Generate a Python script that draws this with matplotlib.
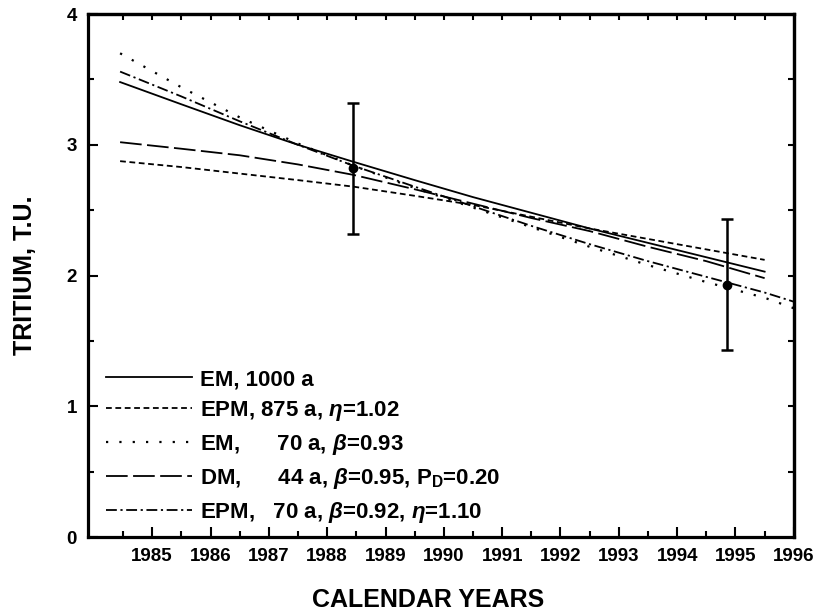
import numpy as np
import matplotlib
matplotlib.use("Agg")
import matplotlib.pyplot as plt

plt.rcParams["font.family"] = ["Liberation Sans", "DejaVu Sans"]
plt.rcParams["font.weight"] = "bold"
plt.rcParams["mathtext.fontset"] = "custom"
plt.rcParams["mathtext.rm"] = "Liberation Sans:bold"
plt.rcParams["mathtext.it"] = "Liberation Sans:italic:bold"

# model curves
years = [1984.45, 1985.5, 1986.5, 1987.5, 1988.45, 1989.5, 1990.5,
         1991.5, 1992.5, 1993.5, 1994.5, 1995.5]
years_long = years + [1996.0]

em_1000 = [3.48, 3.31, 3.15, 3.00, 2.87, 2.73, 2.60, 2.48, 2.36, 2.25, 2.14, 2.03]
epm_875 = [2.875, 2.83, 2.78, 2.73, 2.68, 2.61, 2.54, 2.45, 2.36, 2.28, 2.20, 2.12]
em_70 = [3.70, 3.44, 3.21, 3.01, 2.84, 2.67, 2.52, 2.37, 2.22, 2.08, 1.95, 1.83, 1.75]
dm_44 = [3.02, 2.97, 2.92, 2.85, 2.77, 2.66, 2.55, 2.44, 2.34, 2.22, 2.11, 1.98]
epm_70 = [3.56, 3.37, 3.18, 3.00, 2.84, 2.68, 2.53, 2.38, 2.24, 2.11, 1.99, 1.87, 1.80]

# measurements
obs_years = [1988.45, 1994.85]
obs_tu = [2.82, 1.93]
obs_err = [0.5, 0.5]

labels = [
    "EM, 1000 a",
    r"EPM, 875 a, $\eta$=1.02",
    r"EM,      70 a, $\beta$=0.93",
    r"DM,      44 a, $\beta$=0.95, P$_{\rm D}$=0.20",
    r"EPM,   70 a, $\beta$=0.92, $\eta$=1.10",
]

fig = plt.figure(figsize=(8.15, 6.12), dpi=100)
ax = fig.add_axes([0.108, 0.1225, 0.866, 0.8545])

lw = 1.3
ax.plot(years, em_1000, color="black", lw=lw, ls="-", label=labels[0])
ax.plot(years, epm_875, color="black", lw=lw, ls=(0, (3.2, 2)), label=labels[1])
ax.plot(years_long, em_70, color="black", lw=1.6, ls=(0, (1, 5)), label=labels[2])
ax.plot(years, dm_44, color="black", lw=lw, ls=(0, (12, 3)), label=labels[3])
ax.plot(years_long, epm_70, color="black", lw=lw, ls=(0, (6, 2, 1.2, 2)), label=labels[4])

ax.errorbar(obs_years, obs_tu, yerr=obs_err, fmt="o", color="black",
            ms=6, elinewidth=1.8, capsize=4, capthick=1.8)

ax.set_xlim(1983.9, 1996)
ax.set_ylim(0, 4)

ax.set_xticks(np.arange(1985, 1997, 1))
ax.set_xticks(np.arange(1984.5, 1996, 1), minor=True)
ax.set_yticks([0, 1, 2, 3, 4])
ax.set_yticks([0.5, 1.5, 2.5, 3.5], minor=True)
ax.tick_params(which="both", direction="in", width=1.5, labelsize=13.5, pad=8)
ax.tick_params(which="major", length=7)
ax.tick_params(which="minor", length=4)
for t in ax.get_xticklabels() + ax.get_yticklabels():
    t.set_fontweight("bold")

for s in ax.spines.values():
    s.set_linewidth(2.3)

top = ax.secondary_xaxis("top")
top.set_xticks(np.arange(1984.5, 1996, 0.5))
top.tick_params(direction="in", length=4, width=1.5, labeltop=False)
top.spines["top"].set_linewidth(2.3)
right = ax.secondary_yaxis("right")
right.set_yticks(np.arange(0.5, 4, 0.5))
right.tick_params(direction="in", length=4, width=1.5, labelright=False)
right.spines["right"].set_linewidth(2.3)

ax.set_xlabel("CALENDAR YEARS", fontsize=18, fontweight="bold")
ax.set_ylabel("TRITIUM, T.U.", fontsize=18, fontweight="bold")
ax.xaxis.set_label_coords(0.482, -0.097)
ax.yaxis.set_label_coords(-0.072, 0.5)

ax.legend(loc="lower left", bbox_to_anchor=(0.004, -0.006), frameon=False,
          handlelength=3.87, handletextpad=0.36, labelspacing=0.40,
          borderaxespad=0.3, prop={"weight": "bold", "size": 16})

fig.savefig("out.png", dpi=100)
